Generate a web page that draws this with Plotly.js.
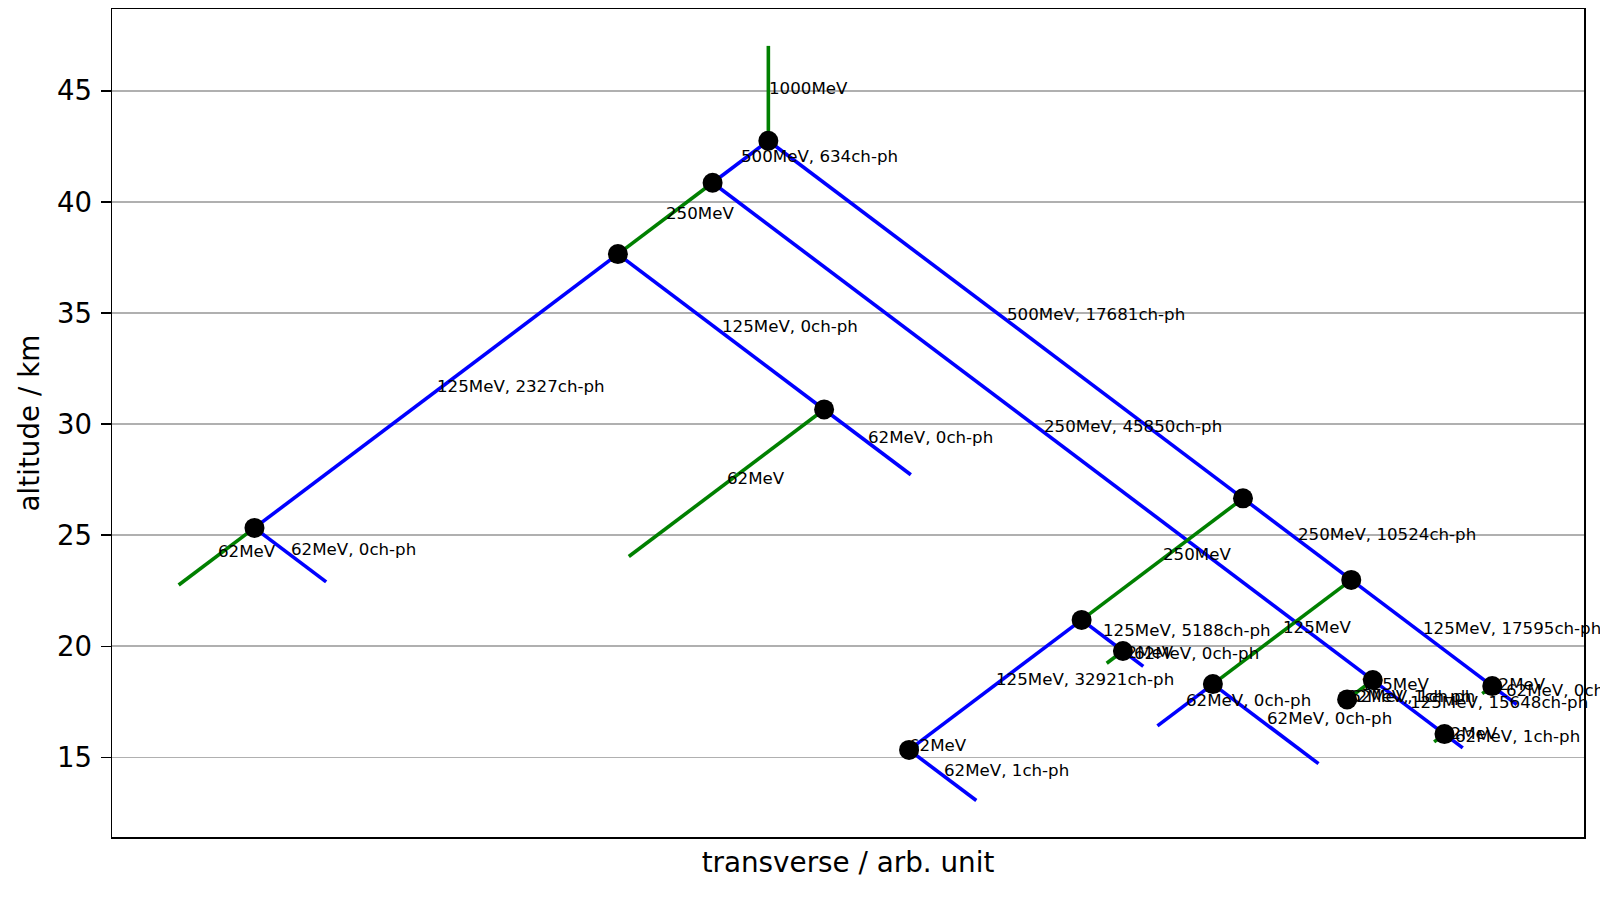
<!DOCTYPE html>
<html><head><meta charset="utf-8">
<script src="https://cdn.plot.ly/plotly-3.0.1.min.js"></script>
<style>html,body{margin:0;padding:0;background:#fff}#chart{width:1600px;height:900px}</style>
</head><body><div id="chart"></div>
<script>
// Shower segments (transverse position x, altitude z in km)
const segX0 = [0, 0, -1.89, -5.10, -17.42, -17.42, -5.10, 1.89, 1.89, -1.89, 20.49, 19.62, 19.62, 20.49, 22.92, 22.92, 0, 16.09, 10.62, 4.77, 4.77, 10.62, 12.02, 12.02, 16.09, 19.76, 15.07, 15.07, 19.76, 24.54, 24.54];
const segZ0 = [47.02, 42.75, 40.86, 37.65, 25.33, 25.33, 37.65, 30.66, 30.66, 40.86, 18.48, 17.61, 17.61, 18.48, 16.05, 16.05, 42.75, 26.66, 21.19, 15.34, 15.34, 21.19, 19.79, 19.79, 26.66, 22.99, 18.30, 18.30, 22.99, 18.21, 18.21];
const segX1 = [0, -1.89, -5.10, -17.42, -19.99, -14.99, 1.89, -4.73, 4.83, 20.49, 19.62, 19.47, 19.77, 22.92, 22.57, 23.54, 16.09, 10.62, 4.77, 4.72, 7.05, 12.02, 11.47, 12.71, 19.76, 15.07, 13.19, 18.65, 24.54, 24.20, 25.37];
const segZ1 = [42.75, 40.86, 37.65, 25.33, 22.76, 22.90, 30.66, 24.04, 27.72, 18.48, 17.61, 17.46, 17.46, 16.05, 15.70, 15.43, 26.66, 21.19, 15.34, 15.29, 13.06, 19.79, 19.24, 19.10, 22.99, 18.30, 16.42, 14.72, 18.21, 17.87, 17.38];
const segParticle = ['gamma','e','gamma','e','gamma','e','e','gamma','e','e','gamma','e','e','e','gamma','e','e','gamma','e','gamma','e','e','gamma','e','e','gamma','e','e','e','gamma','e'];
const segEnergyMeV = [1000, 500, 250, 125, 62, 62, 125, 62, 62, 250, 125, 62, 62, 125, 62, 62, 500, 250, 125, 62, 62, 125, 62, 62, 250, 125, 62, 62, 125, 62, 62];
const segCherenkov = [null, 634, null, 2327, null, 0, 0, null, 0, 45850, null, 1, 1, 15648, null, 1, 17681, null, 32921, null, 1, 5188, null, 0, 10524, null, 0, 0, 17595, null, 0];

// Interaction vertices
const vertexX = [0, -1.89, -5.10, -17.42, 1.89, 16.09, 19.76, 10.62, 12.02, 4.77, 15.07, 20.49, 19.62, 24.54, 22.92];
const vertexZ = [42.75, 40.86, 37.65, 25.33, 30.66, 26.66, 22.99, 21.19, 19.79, 15.34, 18.30, 18.48, 17.61, 18.21, 16.05];

const yTicks = [15, 20, 25, 30, 35, 40, 45];

const colorFor = {gamma: '#008000', e: '#0000ff'};
const traces = [];
const annotations = [];
for (let i = 0; i < segX0.length; i++) {
  traces.push({
    type: 'scatter', mode: 'lines',
    x: [segX0[i], segX1[i]], y: [segZ0[i], segZ1[i]],
    line: {color: colorFor[segParticle[i]], width: 3.6},
    hoverinfo: 'skip', showlegend: false
  });
  const label = segParticle[i] === 'gamma'
    ? segEnergyMeV[i] + 'MeV'
    : segEnergyMeV[i] + 'MeV, ' + segCherenkov[i] + 'ch-ph';
  annotations.push({
    x: (segX0[i] + segX1[i]) / 2, y: (segZ0[i] + segZ1[i]) / 2,
    xref: 'x', yref: 'y', text: label, showarrow: false,
    xanchor: 'left', yanchor: 'bottom', yshift: -6.5, xshift: -1,
    font: {family: 'DejaVu Sans', size: 16.67, color: '#000'}
  });
}
traces.push({
  type: 'scatter', mode: 'markers', x: vertexX, y: vertexZ,
  marker: {color: '#000', size: 20}, hoverinfo: 'skip', showlegend: false
});

const layout = {
  width: 1600, height: 900,
  margin: {l: 112, r: 16, t: 9, b: 63},
  paper_bgcolor: '#fff', plot_bgcolor: '#fff',
  font: {family: 'DejaVu Sans', color: '#000'},
  showlegend: false,
  xaxis: {
    range: [-22.25, 27.65], showgrid: false, zeroline: false,
    showticklabels: false, ticks: '',
    showline: true, mirror: true, linecolor: '#000', linewidth: 1.5,
    title: {text: 'transverse / arb. unit', font: {size: 27.8}, standoff: 15}
  },
  yaxis: {
    range: [11.42, 48.68], tickvals: yTicks, ticktext: yTicks.map(String),
    showgrid: true, gridcolor: '#b0b0b0', gridwidth: 1.8, zeroline: false,
    ticks: 'outside', ticklen: 10, tickwidth: 1.5, tickcolor: '#000',
    tickfont: {size: 27.5}, ticklabelstandoff: 3,
    showline: true, mirror: true, linecolor: '#000', linewidth: 1.5,
    title: {text: 'altitude / km', font: {size: 27.8}, standoff: 9}
  },
  annotations: annotations
};
Plotly.newPlot('chart', traces, layout, {staticPlot: true});
</script></body></html>
